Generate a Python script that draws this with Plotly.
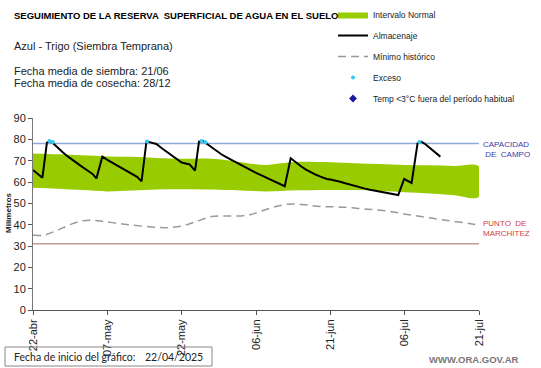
import pandas as pd
import plotly.graph_objects as go

START = "2025-04-22"

# ---- data (days since start, values in mm) ----
alm_days = [0, 1, 1.9, 2.8, 3.4, 4, 5, 6, 7, 8, 9, 10, 11, 12, 12.8,
            14, 15, 16, 17, 18, 19, 20, 21, 21.9,
            22.9, 23.5, 24.9, 26, 27, 28, 29, 30, 31, 31.6, 32.7,
            33.5, 34.3, 35, 36, 37, 38, 39, 40, 41, 42, 43, 44, 45, 46, 47, 48, 49, 50, 50.8,
            52, 53, 54, 55, 56, 57, 58, 59.3, 60, 61, 62, 63, 64, 65, 66, 67, 68, 69, 70, 71, 72, 73, 73.7,
            74.9, 76.4, 77.6, 78.3, 79, 80, 81, 82.2]
alm_vals = [65.6, 63.6, 62.0, 78.4, 79.3, 78.3, 76.0, 73.9, 72.0, 70.2, 68.6, 67.0, 65.4, 63.8, 61.7,
            71.9, 70.4, 69.0, 67.7, 66.4, 65.1, 63.8, 62.4, 60.3,
            79.1, 78.7, 77.8, 75.8, 74.1, 72.4, 70.7, 69.1, 68.6, 68.3, 65.3,
            78.9, 79.2, 78.0, 76.1, 74.5, 73.0, 71.7, 70.4, 69.1, 67.9, 66.7, 65.5, 64.3, 63.2, 62.1, 61.0, 60.0, 59.0, 58.0,
            71.1, 69.2, 67.5, 65.9, 64.6, 63.5, 62.5, 61.4, 61.2, 60.8, 60.1, 59.4, 58.7, 58.0, 57.4, 56.9, 56.4, 56.0, 55.5, 55.0, 54.6, 54.2, 53.9,
            61.4, 59.6, 78.1, 78.9, 78.0, 76.0, 74.0, 71.9]

band_days = [0, 5, 10, 15, 20, 25, 30, 35, 40, 44, 47, 50, 53, 60, 65, 70, 75, 80, 85, 90]
band_upper = [73.4, 73.0, 72.5, 72.0, 71.8, 71.3, 70.9, 71.0, 70.0, 68.6, 68.0, 68.8, 69.4, 69.2, 68.8, 68.4, 68.0, 67.8, 67.5, 67.3]
band_lower = [57.3, 56.8, 56.2, 55.6, 56.0, 56.5, 56.6, 56.5, 56.2, 55.8, 55.6, 55.8, 56.1, 56.3, 56.2, 55.8, 55.2, 54.6, 53.8, 53.1]

min_days = [0, 2, 4, 6, 8, 10, 12, 14, 17, 20, 24, 27, 30, 33, 36, 39, 42, 44, 46, 49, 52, 55, 58, 61, 64, 67, 70, 73, 76, 80, 84, 88, 90]
min_vals = [35.2, 35.0, 36.5, 38.5, 40.5, 41.8, 42.0, 41.6, 40.6, 39.8, 38.9, 38.6, 39.3, 41.5, 43.8, 44.1, 44.1, 44.8, 46.3, 48.5, 49.7, 49.3, 48.5, 48.4, 48.0, 47.3, 46.8, 45.8, 44.6, 43.2, 41.8, 40.6, 39.8]

exc_days = [3.3, 4.0, 23.0, 34.0, 34.8, 78.0]
exc_vals = [79.2, 78.8, 79.0, 79.2, 78.6, 78.8]

cap_days = [0, 90]
cap_vals = [78, 78]
pmp_days = [0, 90]
pmp_vals = [31, 31]

tick_days = [0, 15, 30, 45, 60, 75, 90]
tick_labels = ["22-abr", "07-may", "22-may", "06-jun", "21-jun", "06-jul", "21-jul"]


def to_dates(days):
    return [pd.Timestamp(START) + pd.Timedelta(days=d) for d in days]


# ---- layout geometry (pixels) ----
W, H = 541, 368
L, R, T, B = 33, 62, 118, 58
PW, PH = W - L - R, H - T - B


def px(x):
    return (x - L) / PW


def py(y):
    return (H - B - y) / PH


FONT = "Liberation Sans, Arial, sans-serif"

fig = go.Figure()

fig.add_trace(go.Scatter(x=to_dates(cap_days), y=cap_vals, mode="lines",
                         line=dict(color="#8eaadb", width=1.5), showlegend=False, hoverinfo="skip"))
fig.add_trace(go.Scatter(x=to_dates(pmp_days), y=pmp_vals, mode="lines",
                         line=dict(color="#c49a9a", width=1.5), showlegend=False, hoverinfo="skip"))

fig.add_trace(go.Scatter(x=to_dates(band_days + band_days[::-1]),
                         y=band_upper + band_lower[::-1],
                         fill="toself", fillcolor="#99cc00", mode="lines",
                         line=dict(width=0, color="#99cc00", shape="spline"),
                         name="Intervalo Normal", legendgroup="a"))
fig.add_trace(go.Scatter(x=to_dates(alm_days), y=alm_vals, mode="lines",
                         line=dict(color="black", width=2),
                         name="Almacenaje", legendgroup="b"))
fig.add_trace(go.Scatter(x=to_dates(min_days), y=min_vals, mode="lines",
                         line=dict(color="#999999", width=1.5, dash="8px,5px", shape="spline"),
                         name="Mínimo histórico", legendgroup="c"))
fig.add_trace(go.Scatter(x=to_dates(exc_days), y=exc_vals, mode="markers",
                         marker=dict(color="#33ccee", size=4),
                         name="Exceso", legendgroup="d"))
fig.add_trace(go.Scatter(x=[None], y=[None], mode="markers",
                         marker=dict(color="#1a1aa0", size=6, symbol="diamond"),
                         name="Temp <3°C fuera del período habitual", legendgroup="e"))

annotations = [
    dict(x=px(12), y=py(15), text="<b>SEGUIMIENTO DE LA RESERVA  SUPERFICIAL DE AGUA EN EL SUELO</b>",
         font=dict(size=9.5, color="black", family=FONT), xanchor="left", yanchor="middle"),
    dict(x=px(12), y=py(46), text="Azul - Trigo (Siembra Temprana)",
         font=dict(size=11, color="#222", family=FONT), xanchor="left", yanchor="middle"),
    dict(x=px(12), y=py(71), text="Fecha media de siembra: 21/06",
         font=dict(size=11, color="#222", family=FONT), xanchor="left", yanchor="middle"),
    dict(x=px(12), y=py(83), text="Fecha media de cosecha: 28/12",
         font=dict(size=11, color="#222", family=FONT), xanchor="left", yanchor="middle"),
    dict(x=px(481), y=py(149), text="CAPACIDAD<br> DE  CAMPO",
         font=dict(size=8, color="#3a3aa8", family=FONT), xanchor="left", yanchor="middle", align="left"),
    dict(x=px(481), y=py(228.5), text="PUNTO  DE<br>MARCHITEZ",
         font=dict(size=8, color="#d04040", family=FONT), xanchor="left", yanchor="middle", align="left"),
    dict(x=px(8), y=py(213), text="<b>Milímetros</b>", textangle=-90,
         font=dict(size=8, color="#222", family=FONT), xanchor="center", yanchor="middle"),
    dict(x=px(12), y=py(357), text="Fecha de inicio del gráfico:",
         font=dict(size=10.5, color="#222", family="Lato, sans-serif"), xanchor="left", yanchor="middle"),
    dict(x=px(143), y=py(357), text="22/04/2025",
         font=dict(size=10.5, color="#222", family="Lato, sans-serif"), xanchor="left", yanchor="middle"),
    dict(x=px(427), y=py(359), text="<b>WWW.ORA.GOV.AR</b>",
         font=dict(size=9.5, color="#777", family=FONT), xanchor="left", yanchor="middle"),
]
for a in annotations:
    a.update(xref="paper", yref="paper", showarrow=False)

fig.update_layout(
    width=W, height=H,
    margin=dict(l=L, r=R, t=T, b=B, pad=0, autoexpand=False),
    paper_bgcolor="white", plot_bgcolor="white",
    font=dict(family=FONT, size=11, color="#222"),
    showlegend=True,
    legend=dict(xref="container", yref="container", x=333 / W, y=1.0,
                xanchor="left", yanchor="top", font=dict(size=8.5, family=FONT, color="#222"),
                tracegroupgap=2, bgcolor="rgba(0,0,0,0)", borderwidth=0),
    xaxis=dict(range=to_dates([0, 90]), tickvals=to_dates(tick_days), ticktext=tick_labels,
               tickangle=-90, ticks="outside", ticklen=4, tickcolor="#555",
               showline=True, linecolor="#555", linewidth=1, showgrid=False, zeroline=False,
               tickfont=dict(size=11, color="#222")),
    yaxis=dict(range=[0, 90], dtick=10, ticks="outside", ticklen=4, tickcolor="#555",
               showline=True, linecolor="#777", linewidth=1, showgrid=False, zeroline=False,
               tickfont=dict(size=11, color="#222")),
    annotations=annotations,
    shapes=[dict(type="rect", xref="paper", yref="paper", x0=px(5), x1=px(212), y0=py(347), y1=py(366),
                 line=dict(color="#888", width=1), fillcolor="rgba(0,0,0,0)")],
)

fig.write_html("out.html", config={"displayModeBar": False},
               post_script="document.body.style.margin='0';document.body.style.overflow='hidden';")
